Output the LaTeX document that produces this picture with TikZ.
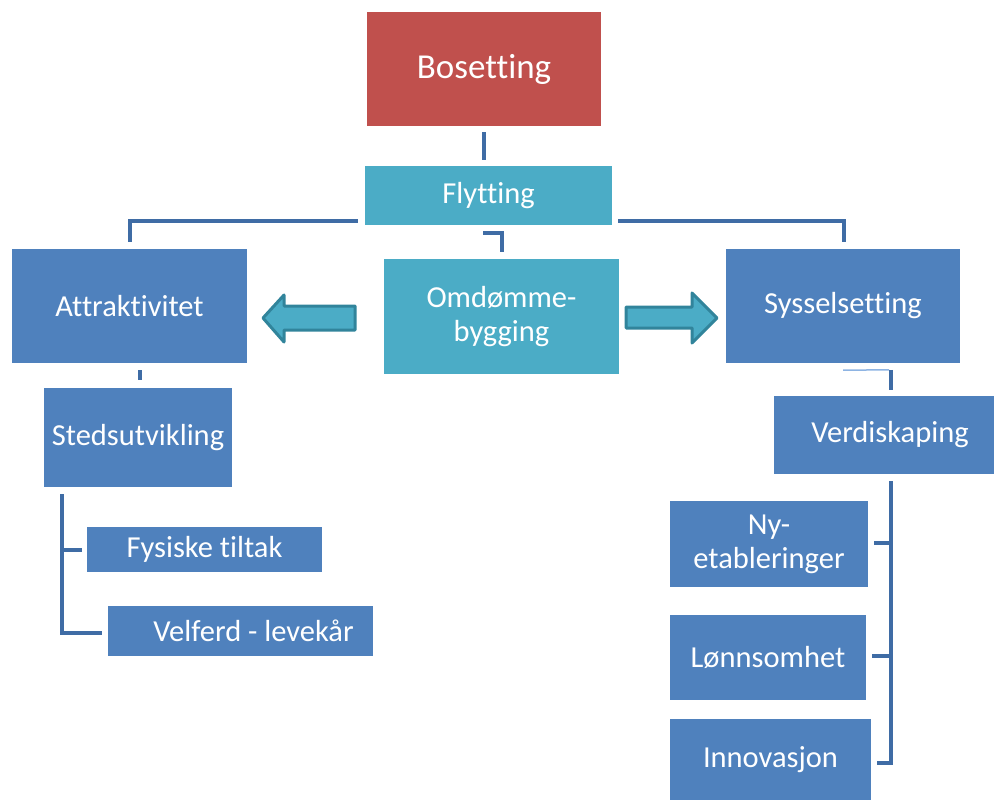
\documentclass[tikz,border=0pt]{standalone}
\usepackage{fontspec}
\setmainfont[Ligatures={NoCommon}]{Carlito}
\usetikzlibrary{calc}
\definecolor{cred}{HTML}{C0504D}
\definecolor{cteal}{HTML}{4BACC6}
\definecolor{cblue}{HTML}{4F81BD}
\definecolor{cline}{HTML}{3F6CA5}
\definecolor{cthin}{HTML}{8EB4E3}
\definecolor{carrow}{HTML}{31849B}
\tikzset{
  box/.style={draw=none, text=white, align=center, inner sep=0pt,
     font=\fontsize{30.5}{34}\selectfont},
  redbox/.style={box, fill=cred},
  tealbox/.style={box, fill=cteal},
  bluebox/.style={box, fill=cblue},
  conn/.style={draw=cline, line width=4pt},
  thinconn/.style={draw=cthin, line width=1.5pt},
  bigarrow/.style={draw=carrow, fill=cteal, line width=3pt, line join=round}
}
\begin{document}
\begin{tikzpicture}[x=1pt,y=-1pt]
\useasboundingbox (0,0) rectangle (994,800);
% boxes
\node[redbox, minimum width=234pt, minimum height=114pt, font=\fontsize{35}{39}\selectfont] (bos) at (484,69) {Bosetting};
\node[tealbox, minimum width=247pt, minimum height=59pt] (fly) at (488.5,195.5) {Flytting};
\node[tealbox, minimum width=235pt, minimum height=115pt] (omd) at (501.5,316.5) {Omdømme-\\bygging};
\node[bluebox, minimum width=235pt, minimum height=114pt] (att) at (129.5,306) {Attraktivitet};
\node[bluebox, minimum width=234pt, minimum height=114pt] (sys) at (843,306) {Sysselsetting};
\node[bluebox, minimum width=188pt, minimum height=99pt] (sted) at (138,437.5) {Stedsutvikling};
\node[bluebox, minimum width=235pt, minimum height=45pt] (fys) at (204.5,549.5) {Fysiske tiltak};
\node[bluebox, minimum width=265pt, minimum height=50pt] (vel) at (240.5,631) {\hspace*{26pt}Velferd - levekår};
\node[bluebox, minimum width=220pt, minimum height=78pt] (verd) at (884,435) {\hspace*{12pt}Verdiskaping};
\node[bluebox, minimum width=198pt, minimum height=86pt] (ny) at (769,544) {Ny-\\etableringer};
\node[bluebox, minimum width=196pt, minimum height=85pt] (lonn) at (768,657.5) {Lønnsomhet};
\node[bluebox, minimum width=201pt, minimum height=81pt] (inn) at (770.5,759.5) {Innovasjon};
% connectors
\draw[conn] ($(bos.south)+(0,6)$) -- ($(fly.north)+(-4.5,-6)$);
\draw[conn] ($(fly.south west)+(-7,-4)$) -| ($(att.north)+(0.5,-7)$);
\draw[conn] ($(fly.south east)+(6,-4)$) -| ($(sys.north)+(1,-7)$);
\draw[conn] ($(fly.south)+(-5.5,8)$) -| ($(omd.north)+(0.5,-7)$);
\draw[conn] ($(att.south)+(10.5,7)$) -- ($(sted.north)+(2,-8)$);
\draw[conn] ($(sted.south west)+(18,7)$) |- ($(vel.west)+(-6,2)$);
\draw[conn] ($(fys.west)+(-25,0.5)$) -- ($(fys.west)+(-5,0.5)$);
\draw[thinconn] ($(sys.south)+(0,7)$) -- ($(verd.north)+(5,-26)$);
\draw[conn] ($(verd.north)+(7,-26)$) -- ($(verd.north)+(7,-6)$);
\draw[conn] ($(verd.south)+(7,7)$) |- ($(inn.east)+(6,3.5)$);
\draw[conn] ($(ny.east)+(6,-1)$) -- ($(ny.east)+(23,-1)$);
\draw[conn] ($(lonn.east)+(6,-1.5)$) -- ($(lonn.east)+(25,-1.5)$);
% block arrows
\draw[bigarrow] (263,318) -- (284,295) -- (284,306) -- (355,306) -- (355,330) -- (284,330) -- (284,342) -- cycle;
\draw[bigarrow] (626,307) -- (692,307) -- (692,293) -- (717,318) -- (692,343) -- (692,328) -- (626,328) -- cycle;
\end{tikzpicture}
\end{document}
